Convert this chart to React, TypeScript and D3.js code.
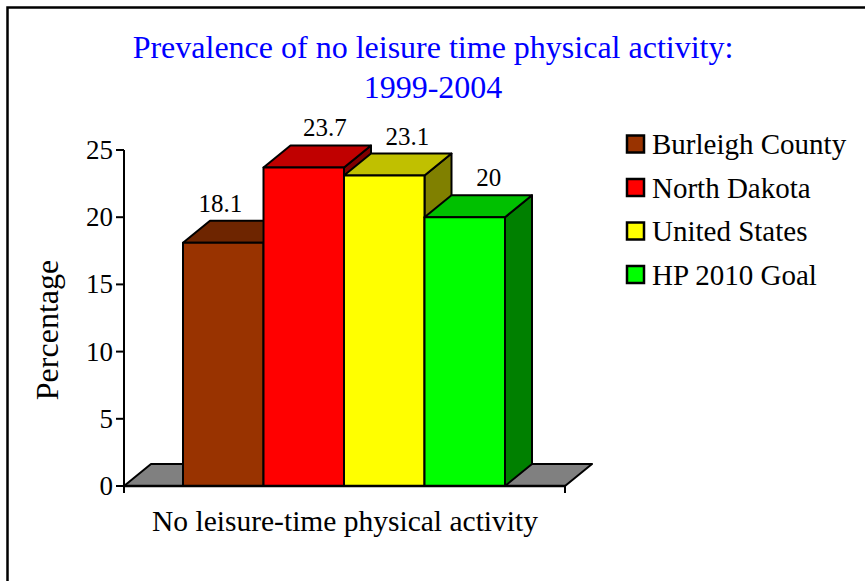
import React from "react";
import * as d3 from "d3";

const titleLines = ["Prevalence of no leisure time physical activity:", "1999-2004"];
const category = "No leisure-time physical activity";
const seriesNames = ["Burleigh County", "North Dakota", "United States", "HP 2010 Goal"];
const seriesValues = [18.1, 23.7, 23.1, 20];
const yTicks = [0, 5, 10, 15, 20, 25];
const yLabel = "Percentage";

const frontColors = ["#993300", "#FF0000", "#FFFF00", "#00FF00"];
const topColors = ["#6E2500", "#C00000", "#C0C000", "#00C000"];
const sideColors = ["#4D1A00", "#800000", "#808000", "#008000"];
const labelDx = [-3, 21, 23, 24];

const W = 865;
const H = 581;
const axisX = 124;
const floorRight = 565;
const y0 = 486;
const y25 = 150;
const DX = 27;
const DY = -22;
const barsLeft = 183;
const barsRight = 505;
const FONT = "'Liberation Serif', 'Times New Roman', serif";

export default function App() {
  const y = d3.scaleLinear().domain([0, 25]).range([y0, y25]);
  const x = d3
    .scaleBand<string>()
    .domain(seriesNames)
    .range([barsLeft, barsRight])
    .paddingInner(0)
    .paddingOuter(0);
  const bw = x.bandwidth();
  const pts = (arr: [number, number][]) => arr.map((p) => p.join(",")).join(" ");

  return (
    <svg
      width={W}
      height={H}
      style={{ position: "absolute", left: 0, top: 0, background: "#fff" }}
      fontFamily={FONT}
    >
      <rect x={7.5} y={7.5} width={W + 10} height={H + 10} fill="#fff" stroke="#000" strokeWidth={2.5} />
      {titleLines.map((t, i) => (
        <text key={i} x={433} y={58 + i * 40} textAnchor="middle" fontSize={32} fill="#0000FF">
          {t}
        </text>
      ))}
      {/* floor */}
      <polygon
        points={pts([
          [axisX, y0],
          [floorRight, y0],
          [floorRight + DX, y0 + DY],
          [axisX + DX, y0 + DY],
        ])}
        fill="#808080"
        stroke="#000"
        strokeWidth={2}
        strokeLinejoin="round"
      />
      {/* bars */}
      {seriesNames.map((s, i) => {
        const x0 = x(s)!;
        const x1 = x0 + bw;
        const yt = y(seriesValues[i]);
        return (
          <g key={s} stroke="#000" strokeWidth={2} strokeLinejoin="round">
            <polygon
              points={pts([
                [x1, y0],
                [x1 + DX, y0 + DY],
                [x1 + DX, yt + DY],
                [x1, yt],
              ])}
              fill={sideColors[i]}
            />
            <polygon
              points={pts([
                [x0, yt],
                [x1, yt],
                [x1 + DX, yt + DY],
                [x0 + DX, yt + DY],
              ])}
              fill={topColors[i]}
            />
            <rect x={x0} y={yt} width={bw} height={y0 - yt} fill={frontColors[i]} />
          </g>
        );
      })}
      {/* value labels */}
      {seriesNames.map((s, i) => (
        <text
          key={s}
          x={x(s)! + bw / 2 + labelDx[i]}
          y={y(seriesValues[i]) + DY - 9}
          textAnchor="middle"
          fontSize={25}
          fill="#000"
        >
          {seriesValues[i]}
        </text>
      ))}
      {/* axes */}
      <line x1={axisX} y1={y25} x2={axisX} y2={y0} stroke="#000" strokeWidth={2} />
      <line x1={axisX} y1={y0} x2={floorRight} y2={y0} stroke="#000" strokeWidth={2.5} />
      <line x1={axisX} y1={y0} x2={axisX} y2={y0 + 7} stroke="#000" strokeWidth={2} />
      <line x1={floorRight} y1={y0} x2={floorRight} y2={y0 + 7} stroke="#000" strokeWidth={2} />
      {yTicks.map((t) => (
        <g key={t}>
          <line x1={axisX - 8} y1={y(t)} x2={axisX} y2={y(t)} stroke="#000" strokeWidth={2} />
          <text x={axisX - 11} y={y(t) + 9} textAnchor="end" fontSize={27} fill="#000">
            {t}
          </text>
        </g>
      ))}
      <text
        transform={`translate(58,330) rotate(-90)`}
        textAnchor="middle"
        fontSize={32}
        fill="#000"
      >
        {yLabel}
      </text>
      <text x={345} y={531} textAnchor="middle" fontSize={29.5} fill="#000">
        {category}
      </text>
      {/* legend */}
      {seriesNames.map((s, i) => {
        const cy = 144 + i * 43.5;
        return (
          <g key={s}>
            <rect x={627} y={cy - 8.5} width={17} height={17} fill={frontColors[i]} stroke="#000" strokeWidth={2.5} />
            <text x={652} y={cy + 10} fontSize={29} fill="#000">
              {s}
            </text>
          </g>
        );
      })}
    </svg>
  );
}
